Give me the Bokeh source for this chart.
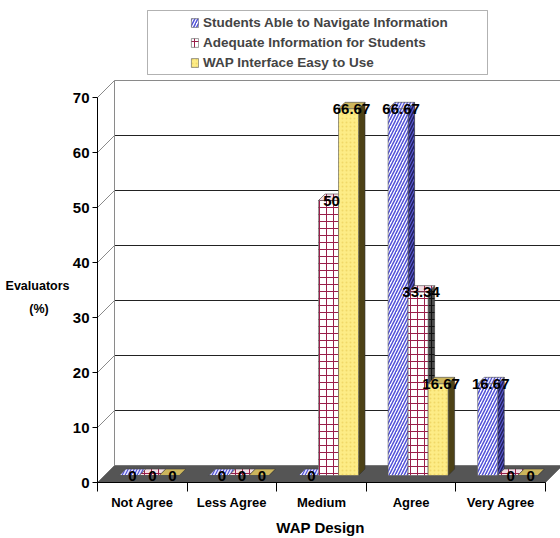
from bokeh.plotting import figure
from bokeh.models import (Range1d, FixedTicker, BoxAnnotation, Legend,
                          LegendItem, ColumnDataSource, LinearAxis)
from bokeh.core.properties import value
from bokeh.embed import file_html
from bokeh.resources import INLINE

# ---- data -----------------------------------------------------------------
categories = ["Not Agree", "Less Agree", "Medium", "Agree", "Very Agree"]
series_names = ["Students Able to Navigate Information",
                "Adequate Information for Students",
                "WAP Interface Easy to Use"]
navigate = [0, 0, 0, 66.67, 16.67]
adequate = [0, 0, 50, 33.34, 0]
interface = [0, 0, 66.67, 16.67, 0]
y_ticks = [0, 10, 20, 30, 40, 50, 60, 70]
y_title = ["Evaluators", "(%)"]
x_title = "WAP Design"

FONT = "'Liberation Sans Narrow', 'Liberation Sans', Arial, sans-serif"
NBSP = "\u00a0"

# ---- pixel geometry of the pseudo-3D chart -----------------------------------
PX_X = 89.6          # pixels per category
PX_Y = 5.5           # pixels per percent
LEFT, BOTTOM = 95, 54
W, H = 560, 538
FRAME_W = W - LEFT
FRAME_H = H - BOTTOM - 5


def dx(px):
    return px / PX_X


def dy(px):
    return px / PX_Y


x0 = -dx(2)
y0 = -dy(2)
x_end = x0 + dx(FRAME_W)
y_end = y0 + dy(FRAME_H)

WALL = 17        # depth of floor / side wall
BAR_POS = 7      # depth at which bar fronts stand
BAR_DEPTH = 6.5  # thickness of each bar
BAR_W = 20       # width of each bar

p = figure(width=W, height=H, x_range=Range1d(x0, x_end),
           y_range=Range1d(y0, y_end), output_backend="svg",
           toolbar_location=None, min_border_left=LEFT, min_border_right=0,
           min_border_top=5, min_border_bottom=BOTTOM)
p.grid.visible = False
p.outline_line_color = None
p.background_fill_color = "white"
p.border_fill_color = "white"

n = len(categories)
wx, wy = dx(WALL), dy(WALL)

# back wall grid lines
grid_y = [v + wy for v in y_ticks[1:]]
p.segment(x0=[wx] * len(grid_y), y0=grid_y, x1=[x_end] * len(grid_y), y1=grid_y,
          line_color=["#222222"] * (len(grid_y) - 1) + ["#8a8a8a"], line_width=1)
# side wall lines
p.segment(x0=[0] * len(y_ticks[1:]), y0=y_ticks[1:], x1=[wx] * len(y_ticks[1:]),
          y1=grid_y, line_color="#8a8a8a", line_width=1)
p.segment(x0=[wx], y0=[wy], x1=[wx], y1=[y_ticks[-1] + wy],
          line_color="#8a8a8a", line_width=1)

# floor
p.patch(x=[0, n, n + wx, wx], y=[0, 0, wy, wy], fill_color="#555555",
        line_color="#777777", line_width=1)

# front axis lines
p.segment(x0=[0, 0], y0=[0, 0], x1=[0, n], y1=[y_ticks[-1], 0],
          line_color="black", line_width=1)

# ---- bars -------------------------------------------------------------------
series = [navigate, adequate, interface]
bx, by = dx(BAR_POS), dy(BAR_POS)
bw = dx(BAR_W)
ddx, ddy = dx(BAR_DEPTH), dy(BAR_DEPTH)
group_left = 0.5 - 1.5 * bw

styles = [
    dict(front=dict(fill_color="white", hatch_pattern="/", hatch_color="#5050d8",
                    hatch_scale=6, hatch_weight=1.5),
         side=dict(fill_color="#202060", hatch_pattern="/", hatch_color="#5a5ad0",
                   hatch_scale=6, hatch_weight=1.2),
         top=dict(fill_color="#e6e6ff", hatch_pattern="/", hatch_color="#5050d8",
                  hatch_scale=6, hatch_weight=1.2)),
    dict(front=dict(fill_color="white", hatch_pattern="+", hatch_color="#9a1f4a",
                    hatch_scale=7, hatch_weight=1),
         side=dict(fill_color="#4a4a4a", hatch_pattern="+", hatch_color="#111111",
                   hatch_scale=7, hatch_weight=1),
         top=dict(fill_color="#f3dde4", hatch_pattern="+", hatch_color="#9a1f4a",
                  hatch_scale=7, hatch_weight=1)),
    dict(front=dict(fill_color="#fdec86", hatch_pattern=".", hatch_color="#f0d868",
                    hatch_scale=4, hatch_weight=1),
         side=dict(fill_color="#4d4216"),
         top=dict(fill_color="#cdb65c")),
]

geo = []
for s, vals in enumerate(series):
    lefts = [i + group_left + s * bw + bx for i in range(n)]
    rights = [l + bw for l in lefts]
    tops = [v + by for v in vals]
    geo.append((lefts, rights, tops, vals))

# side faces
for s, (lefts, rights, tops, vals) in enumerate(geo):
    xs = [[r, r + ddx, r + ddx, r] for r in rights]
    ys = [[by, by + ddy, t + ddy, t] for t in tops]
    p.patches(xs=xs, ys=ys, line_color="#333333", line_width=0.6, **styles[s]["side"])

# top faces
for s, (lefts, rights, tops, vals) in enumerate(geo):
    xs = [[l, r, r + ddx, l + ddx] for l, r in zip(lefts, rights)]
    ys = [[t, t, t + ddy, t + ddy] for t in tops]
    p.patches(xs=xs, ys=ys, line_color="#444444", line_width=0.6, **styles[s]["top"])

# front faces
fronts = []
for s, (lefts, rights, tops, vals) in enumerate(geo):
    src = ColumnDataSource(dict(left=lefts, right=rights, bottom=[by] * n, top=tops))
    r = p.quad(left="left", right="right", bottom="bottom", top="top", source=src,
               line_color="#555555", line_width=0.6, **styles[s]["front"])
    fronts.append(r)

# value labels
lx, ly, lt = [], [], []
for lefts, rights, tops, vals in geo:
    for l, r, t, v in zip(lefts, rights, tops, vals):
        lx.append((l + r) / 2 + dx(3))
        ly.append(t)
        lt.append(f"{v:g}")
p.text(x=lx, y=ly, text=lt, text_font=value(FONT), text_font_style="bold",
       text_font_size="15px", text_align="center", text_baseline="alphabetic",
       text_color="black")


# ---- axes -------------------------------------------------------------------
def bold_labels(axis, size):
    axis.major_label_text_font = FONT
    axis.major_label_text_font_style = "bold"
    axis.major_label_text_font_size = size
    axis.major_label_text_color = "black"


p.yaxis.ticker = FixedTicker(ticks=y_ticks)
p.yaxis.axis_line_color = None
p.yaxis.major_tick_in = 2
p.yaxis.major_tick_out = 3
p.yaxis.minor_tick_line_color = None
p.yaxis.major_label_standoff = 3
bold_labels(p.yaxis[0], "15px")

# two-line y title, set beside the tick labels
title_rows = [dy(482 - 285), dy(482 - 308)]
y_title_axis = LinearAxis(
    ticker=FixedTicker(ticks=title_rows),
    major_label_overrides={title_rows[0]: y_title[0],
                           title_rows[1]: y_title[1] + NBSP * 6},
    axis_line_color=None, major_tick_line_color=None, minor_tick_line_color=None,
    major_tick_in=0, major_tick_out=0, major_label_standoff=0)
bold_labels(y_title_axis, "12.5px")
p.add_layout(y_title_axis, "left")

centers = [i + 0.5 for i in range(n)]
p.xaxis.ticker = FixedTicker(ticks=centers, minor_ticks=list(range(n + 1)))
p.xaxis.major_label_overrides = {c: name for c, name in zip(centers, categories)}
p.xaxis.axis_line_color = None
p.xaxis.major_tick_line_color = None
p.xaxis.major_tick_in = 0
p.xaxis.major_tick_out = 0
p.xaxis.minor_tick_line_color = "black"
p.xaxis.minor_tick_in = 2
p.xaxis.minor_tick_out = 7
p.xaxis.major_label_standoff = 3
bold_labels(p.xaxis[0], "13px")

# x title, placed under the middle category group
x_title_pos = dx(320 - 97)
x_title_axis = LinearAxis(
    ticker=FixedTicker(ticks=[x_title_pos]),
    major_label_overrides={x_title_pos: x_title},
    axis_line_color=None, major_tick_line_color=None, minor_tick_line_color=None,
    major_tick_in=0, major_tick_out=0, major_label_standoff=6)
bold_labels(x_title_axis, "15px")
p.add_layout(x_title_axis, "below")

# ---- legend -----------------------------------------------------------------
p.add_layout(BoxAnnotation(left=147 - LEFT, right=487 - LEFT, top=484 - 10,
                           bottom=484 - 74, left_units="screen", right_units="screen",
                           top_units="screen", bottom_units="screen",
                           fill_color="white", fill_alpha=1, line_color="black",
                           line_width=1))
legend = Legend(items=[LegendItem(label=name, renderers=[r])
                       for name, r in zip(series_names, fronts)],
                location=(190 - LEFT, 412), padding=0, margin=0,
                border_line_color=None, background_fill_alpha=0,
                label_text_font=FONT, label_text_font_style="bold",
                label_text_font_size="13.5px", glyph_width=9, glyph_height=11,
                label_standoff=4, spacing=1, label_height=19)
p.add_layout(legend)

open("out.html", "w").write(file_html(p, INLINE))
